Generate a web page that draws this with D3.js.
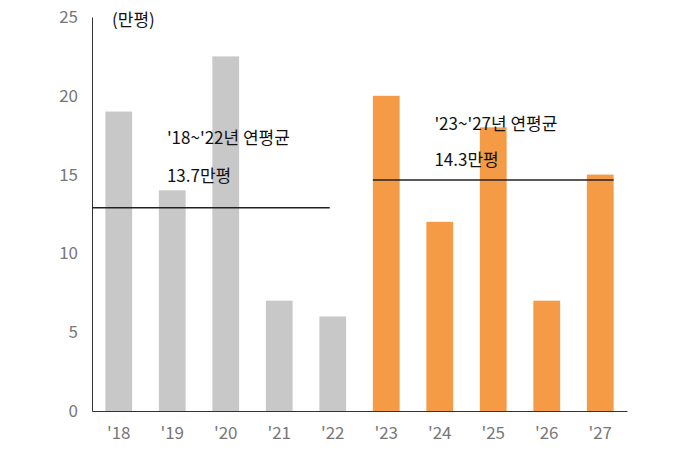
<!DOCTYPE html>
<html><head><meta charset="utf-8">
<script src="https://cdn.jsdelivr.net/npm/d3@7"></script>
<style>body{margin:0;background:#fff}text{font-family:"Noto Sans CJK KR","Noto Sans",sans-serif}</style>
</head><body><svg id="c" width="690" height="460"></svg>
<script>
const years = ["'18","'19","'20","'21","'22","'23","'24","'25","'26","'27"];
const supply = [19, 14, 22.5, 7, 6, 20, 12, 18, 7, 15];
const yTicks = [0, 5, 10, 15, 20, 25];
const avgLines = [
  {from: 0, to: 4, value: 12.9, label1: "'18~'22년 연평균", label2: "13.7만평"},
  {from: 5, to: 9, value: 14.65, label1: "'23~'27년 연평균", label2: "14.3만평"}
];

const margin = {top: 17, right: 63, bottom: 49, left: 92};
const width = 690, height = 460;
const svg = d3.select('#c');

const x = d3.scaleBand().domain(years).range([margin.left, width - margin.right]).paddingInner(0.5).paddingOuter(0.25);
const y = d3.scaleLinear().domain([0, 25]).range([height - margin.bottom, margin.top]);

svg.selectAll('rect').data(supply).join('rect')
  .attr('x', (d, i) => x(years[i]))
  .attr('width', x.bandwidth())
  .attr('y', d => y(d))
  .attr('height', d => y(0) - y(d))
  .attr('fill', (d, i) => i < 5 ? '#c8c8c8' : '#f59a45');

const yAxis = svg.append('g').attr('transform', `translate(${margin.left},0)`)
  .call(d3.axisLeft(y).tickValues(yTicks).tickSize(0).tickPadding(14));
yAxis.select('.domain').attr('stroke', '#333');
yAxis.selectAll('text').attr('font-size', 17).attr('fill', '#777');

const xAxis = svg.append('g').attr('transform', `translate(0,${y(0)})`)
  .call(d3.axisBottom(x).tickSize(0).tickPadding(16));
xAxis.select('.domain').attr('stroke', '#333');
xAxis.selectAll('text').attr('font-size', 17).attr('fill', '#777');

const bw = x.bandwidth();
avgLines.forEach(a => {
  const x0 = a.from === 0 ? margin.left : x(years[a.from]);
  const x1 = a.from === 0 ? x(years[a.to]) + bw / 2 - 3 : x(years[a.to]) + bw;
  svg.append('line').attr('x1', x0).attr('x2', x1).attr('y1', y(a.value)).attr('y2', y(a.value))
    .attr('stroke', '#222').attr('stroke-width', 1.5);
  const tx = x(years[a.from + 1]) + 8;
  svg.append('text').attr('x', tx).attr('y', a.from === 0 ? 144 : 130).attr('font-size', 17).attr('fill', '#111').text(a.label1);
  svg.append('text').attr('x', tx).attr('y', a.from === 0 ? 182 : 166).attr('font-size', 17).attr('fill', '#111').text(a.label2);
});

svg.append('text').attr('x', 112).attr('y', 26).attr('font-size', 17).attr('fill', '#111').text('(만평)');
</script></body></html>
